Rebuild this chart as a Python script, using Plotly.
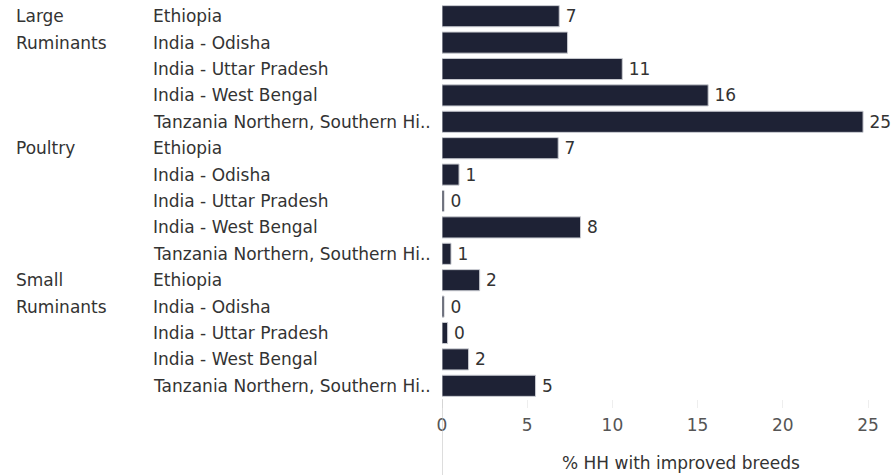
import plotly.graph_objects as go

groups = ["Large Ruminants"] * 5 + ["Poultry"] * 5 + ["Small Ruminants"] * 5
countries = ["Ethiopia", "India - Odisha", "India - Uttar Pradesh", "India - West Bengal",
             "Tanzania Northern, Southern Hi.."] * 3
values = [6.88, 7.37, 10.58, 15.62, 24.71,
          6.82, 1.0, 0.12, 8.13, 0.53,
          2.21, 0.12, 0.33, 1.56, 5.49]
labels = ["7", "", "11", "16", "25",
          "7", "1", "0", "8", "1",
          "2", "0", "0", "2", "5"]
group_lines = {"Large Ruminants": ["Large", "Ruminants"],
               "Poultry": ["Poultry"],
               "Small Ruminants": ["Small", "Ruminants"]}
x_ticks = [0, 5, 10, 15, 20, 25]
x_title = "% HH with improved breeds"

FONT = "DejaVu Sans"
FS = 17
TXT = "#333333"
BAR = "#1e2235"

rows = [f"{g}|{c}" for g, c in zip(groups, countries)]

fig = go.Figure(go.Bar(
    x=values, y=rows, orientation="h",
    marker=dict(color=BAR, line=dict(color="#c9cbd1", width=1)),
    text=labels, texttemplate="\u2009%{text}", textposition="outside", cliponaxis=False,
    textfont=dict(family=FONT, size=FS, color=TXT),
    hoverinfo="skip",
))

W, H = 894, 475
L, R, T, B = 442, 26, 3, 76
pw = W - L - R
ph = H - T - B

def px_to_paper(px):
    return (px - L) / pw

def py_to_paper(py):
    return (H - B - py) / ph

ann = []
for r, c in zip(rows, countries):
    ann.append(dict(x=px_to_paper(151), xref="paper", y=r, yref="y", text=c,
                    xanchor="left", yanchor="middle", showarrow=False,
                    font=dict(family=FONT, size=FS, color=TXT)))
seen = set()
for i, g in enumerate(groups):
    if g in seen:
        continue
    seen.add(g)
    for j, line in enumerate(group_lines[g]):
        ann.append(dict(x=px_to_paper(14), xref="paper", y=rows[i + j], yref="y", text=line,
                        xanchor="left", yanchor="middle", showarrow=False,
                        font=dict(family=FONT, size=FS, color=TXT)))
ann.append(dict(x=px_to_paper(681), xref="paper", y=py_to_paper(463), yref="paper",
                text=x_title, xanchor="center", yanchor="middle", showarrow=False,
                font=dict(family=FONT, size=FS, color=TXT)))

fig.update_layout(
    width=W, height=H, margin=dict(l=L, r=R, t=T, b=B),
    paper_bgcolor="white", plot_bgcolor="white",
    bargap=0.2, showlegend=False,
    annotations=ann,
    font=dict(family=FONT, size=FS, color=TXT),
    shapes=[dict(type="line", xref="x", x0=0, x1=0, yref="paper", y0=0, y1=-(B + 2) / ph,
                 line=dict(color="#bbbbbb", width=1))],
)
fig.update_yaxes(autorange="reversed", showticklabels=False, showgrid=False, zeroline=False,
                 showline=False, ticks="")
fig.update_xaxes(range=[0, 25], tickvals=x_ticks, showgrid=False, zeroline=False, showline=False,
                 ticks="outside", ticklen=8, tickcolor="#eeeeee", ticklabelstandoff=3,
                 tickfont=dict(family=FONT, size=FS, color="#555555"))

fig.write_html("out.html", config={"displayModeBar": False},
               post_script="document.body.style.margin='0';")
